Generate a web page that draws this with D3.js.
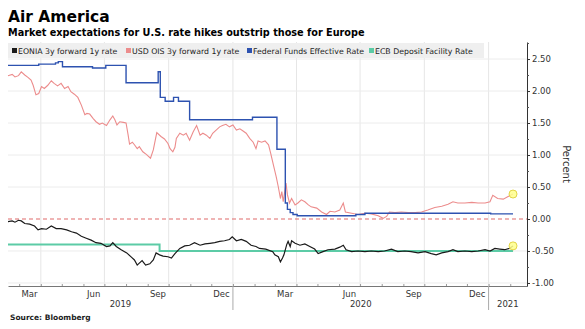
<!DOCTYPE html>
<html>
<head>
<meta charset="utf-8">
<script src="https://cdn.jsdelivr.net/npm/d3@7"></script>
<style>
  body { margin: 0; background: #fff; }
  svg { display: block; }
</style>
</head>
<body>
<svg id="chart"></svg>
<script>
// series, [date, percent]
const usdOis = [
  ["2019-02-13",2.24],["2019-02-19",2.26],["2019-02-23",2.22],["2019-02-28",2.24],["2019-03-04",2.30],["2019-03-09",2.25],
  ["2019-03-14",2.21],["2019-03-18",2.17],["2019-03-21",2.09],["2019-03-25",1.94],["2019-03-29",1.96],["2019-04-02",2.07],
  ["2019-04-06",2.04],["2019-04-11",2.09],["2019-04-16",2.16],["2019-04-20",2.12],["2019-04-25",2.08],["2019-04-30",2.12],
  ["2019-05-05",2.04],["2019-05-10",2.07],["2019-05-14",1.99],["2019-05-19",1.95],["2019-05-24",1.90],["2019-05-29",1.78],
  ["2019-06-03",1.63],["2019-06-06",1.65],["2019-06-10",1.64],["2019-06-15",1.57],["2019-06-19",1.52],["2019-06-24",1.48],
  ["2019-06-28",1.50],["2019-07-04",1.46],["2019-07-09",1.55],["2019-07-13",1.61],["2019-07-16",1.55],["2019-07-19",1.47],
  ["2019-07-23",1.52],["2019-07-28",1.51],["2019-08-01",1.50],["2019-08-04",1.31],["2019-08-06",1.17],["2019-08-10",1.20],
  ["2019-08-13",1.16],["2019-08-17",1.10],["2019-08-20",1.13],["2019-08-25",1.05],["2019-08-30",1.01],["2019-09-05",0.95],
  ["2019-09-09",1.08],["2019-09-14",1.35],["2019-09-20",1.29],["2019-09-25",1.25],["2019-09-30",1.18],["2019-10-03",1.10],
  ["2019-10-07",1.05],["2019-10-10",1.12],["2019-10-12",1.26],["2019-10-17",1.34],["2019-10-22",1.31],["2019-10-26",1.34],
  ["2019-10-31",1.23],["2019-11-05",1.36],["2019-11-10",1.46],["2019-11-15",1.31],["2019-11-19",1.34],["2019-11-24",1.31],
  ["2019-11-29",1.26],["2019-12-03",1.34],["2019-12-08",1.39],["2019-12-13",1.44],["2019-12-17",1.46],["2019-12-22",1.48],
  ["2019-12-27",1.44],["2020-01-01",1.47],["2020-01-06",1.39],["2020-01-11",1.41],["2020-01-15",1.38],["2020-01-20",1.34],
  ["2020-01-25",1.26],["2020-01-30",1.20],["2020-02-03",1.10],["2020-02-06",1.22],["2020-02-11",1.20],["2020-02-16",1.22],
  ["2020-02-21",1.16],["2020-02-24",1.03],["2020-02-28",0.84],["2020-03-03",0.66],["2020-03-06",0.50],["2020-03-09",0.32],
  ["2020-03-11",0.43],["2020-03-13",0.27],["2020-03-17",0.56],["2020-03-19",0.38],["2020-03-22",0.25],["2020-03-25",0.32],
  ["2020-03-30",0.22],["2020-04-03",0.25],["2020-04-08",0.30],["2020-04-13",0.27],["2020-04-18",0.22],["2020-04-22",0.19],
  ["2020-04-30",0.17],["2020-05-07",0.11],["2020-05-14",0.07],["2020-05-19",0.12],["2020-05-26",0.11],["2020-06-02",0.14],
  ["2020-06-07",0.25],["2020-06-10",0.11],["2020-06-19",0.09],["2020-06-28",0.07],["2020-07-08",0.09],["2020-07-17",0.08],
  ["2020-07-27",0.05],["2020-08-03",0.01],["2020-08-08",0.04],["2020-08-12",0.11],["2020-08-20",0.10],["2020-08-29",0.11],
  ["2020-09-08",0.10],["2020-09-18",0.10],["2020-09-27",0.11],["2020-10-06",0.14],["2020-10-16",0.18],["2020-10-26",0.20],
  ["2020-11-04",0.23],["2020-11-11",0.27],["2020-11-18",0.25],["2020-11-28",0.25],["2020-12-08",0.26],["2020-12-17",0.25],
  ["2020-12-27",0.25],["2021-01-03",0.27],["2021-01-07",0.37],["2021-01-14",0.32],["2021-01-22",0.31],["2021-01-29",0.35],
  ["2021-02-05",0.39]
];
const eonia = [
  ["2019-02-13",-0.04],["2019-02-19",-0.03],["2019-02-23",-0.05],["2019-02-28",-0.02],["2019-03-04",-0.03],["2019-03-09",-0.07],
  ["2019-03-16",-0.08],["2019-03-23",-0.11],["2019-03-28",-0.17],["2019-04-02",-0.15],["2019-04-09",-0.16],["2019-04-16",-0.11],
  ["2019-04-23",-0.15],["2019-04-30",-0.15],["2019-05-08",-0.17],["2019-05-15",-0.20],["2019-05-22",-0.22],["2019-05-29",-0.27],
  ["2019-06-05",-0.30],["2019-06-12",-0.33],["2019-06-19",-0.37],["2019-06-26",-0.38],["2019-07-04",-0.43],["2019-07-09",-0.42],
  ["2019-07-13",-0.37],["2019-07-18",-0.43],["2019-07-25",-0.48],["2019-08-02",-0.53],["2019-08-09",-0.60],["2019-08-13",-0.64],
  ["2019-08-17",-0.72],["2019-08-20",-0.69],["2019-08-24",-0.65],["2019-08-29",-0.72],["2019-09-04",-0.70],["2019-09-09",-0.64],
  ["2019-09-13",-0.53],["2019-09-18",-0.56],["2019-09-23",-0.58],["2019-09-30",-0.59],["2019-10-05",-0.61],["2019-10-10",-0.54],
  ["2019-10-17",-0.46],["2019-10-24",-0.42],["2019-10-31",-0.41],["2019-11-07",-0.37],["2019-11-15",-0.41],["2019-11-22",-0.39],
  ["2019-11-29",-0.38],["2019-12-06",-0.37],["2019-12-13",-0.35],["2019-12-20",-0.34],["2019-12-27",-0.32],["2019-12-31",-0.28],
  ["2020-01-06",-0.34],["2020-01-13",-0.32],["2020-01-20",-0.35],["2020-01-27",-0.41],["2020-02-03",-0.43],["2020-02-08",-0.46],
  ["2020-02-17",-0.47],["2020-02-27",-0.51],["2020-03-01",-0.56],["2020-03-06",-0.59],["2020-03-09",-0.67],["2020-03-12",-0.61],
  ["2020-03-14",-0.56],["2020-03-18",-0.40],["2020-03-20",-0.35],["2020-03-23",-0.43],["2020-03-25",-0.34],["2020-03-30",-0.38],
  ["2020-04-06",-0.41],["2020-04-13",-0.39],["2020-04-20",-0.43],["2020-04-27",-0.47],["2020-05-02",-0.54],["2020-05-09",-0.51],
  ["2020-05-16",-0.48],["2020-05-26",-0.47],["2020-06-02",-0.44],["2020-06-07",-0.41],["2020-06-11",-0.48],["2020-06-19",-0.51],
  ["2020-06-28",-0.50],["2020-07-08",-0.51],["2020-07-17",-0.50],["2020-07-27",-0.51],["2020-08-05",-0.50],["2020-08-15",-0.47],
  ["2020-08-24",-0.51],["2020-09-03",-0.50],["2020-09-12",-0.51],["2020-09-22",-0.53],["2020-10-02",-0.51],["2020-10-11",-0.54],
  ["2020-10-18",-0.56],["2020-10-26",-0.53],["2020-11-04",-0.51],["2020-11-11",-0.48],["2020-11-18",-0.51],["2020-11-28",-0.50],
  ["2020-12-08",-0.51],["2020-12-17",-0.50],["2020-12-27",-0.48],["2021-01-03",-0.50],["2021-01-10",-0.46],["2021-01-17",-0.47],
  ["2021-01-24",-0.48],["2021-01-31",-0.46],["2021-02-05",-0.42]
];
const fedFunds = [
  ["2019-02-13",2.40],["2019-03-29",2.42],["2019-04-22",2.44],["2019-04-26",2.46],["2019-05-02",2.38],["2019-06-14",2.36],
  ["2019-07-03",2.40],["2019-08-01",2.13],["2019-09-16",2.30],["2019-09-19",1.90],["2019-09-26",1.84],["2019-10-08",1.90],
  ["2019-10-15",1.84],["2019-10-31",1.55],["2020-01-29",1.59],["2020-03-04",1.09],["2020-03-16",0.25],["2020-03-19",0.15],
  ["2020-03-23",0.10],["2020-03-27",0.07],["2020-04-02",0.05],["2020-06-25",0.07],["2020-07-08",0.09],["2021-01-04",0.08],
  ["2021-02-05",0.08]
];
const ecbDeposit = [["2019-02-13",-0.40],["2019-09-18",-0.50],["2021-02-05",-0.50]];

const seriesNames = ["EONIA 3y forward 1y rate", "USD OIS 3y forward 1y rate", "Federal Funds Effective Rate", "ECB Deposit Facility Rate"];
const seriesColors = ["#1a1a1a", "#ec8c8c", "#2d52b0", "#5ccba6"];
const yTicks = [-1, -0.5, 0, 0.5, 1, 1.5, 2, 2.5];
const monthLabels = ["Mar", "Jun", "Sep", "Dec"];
const yearLabels = ["2019", "2020", "2021"];

const parse = d3.timeParse("%Y-%m-%d");
const WIDTH = 585, HEIGHT = 329;
const PLOT = { left: 8, right: 527, top: 42, bottom: 286 };
const FONT = "DejaVu Sans, Verdana, sans-serif";

const SVG = d3.select("#chart").attr("width", WIDTH).attr("height", HEIGHT)
  .style("font-family", FONT);

const xScale = d3.scaleTime()
  .domain([parse("2019-02-13"), parse("2021-02-25")])
  .range([PLOT.left, PLOT.right]);
const yScale = d3.scaleLinear()
  .domain([-1.047, 2.766])
  .range([PLOT.bottom, PLOT.top]);

// grid
const quarters = xScale.ticks(d3.timeMonth.every(3));
SVG.append("g").selectAll("line").data(quarters).enter().append("line")
  .attr("x1", d => xScale(d)).attr("x2", d => xScale(d))
  .attr("y1", PLOT.top).attr("y2", PLOT.bottom)
  .attr("stroke", "#e6e6e6").attr("stroke-width", 1);
SVG.append("g").selectAll("line").data(yTicks.filter(d => d !== 0)).enter().append("line")
  .attr("x1", PLOT.left).attr("x2", PLOT.right)
  .attr("y1", d => yScale(d)).attr("y2", d => yScale(d))
  .attr("stroke", "#ececec").attr("stroke-width", 1);

// zero line
SVG.append("line")
  .attr("x1", PLOT.left).attr("x2", PLOT.right)
  .attr("y1", yScale(0)).attr("y2", yScale(0))
  .attr("stroke", "#e06a6a").attr("stroke-width", 1.2)
  .attr("stroke-dasharray", "4,3");

// x axis: monthly minor ticks
SVG.append("g")
  .attr("transform", `translate(0,${PLOT.bottom})`)
  .call(d3.axisBottom(xScale).ticks(d3.timeMonth.every(1)).tickSize(-2).tickSizeOuter(0).tickFormat(""))
  .call(g => g.select(".domain").attr("stroke", "#777"))
  .call(g => g.selectAll(".tick line").attr("stroke", "#999"));

// month labels centred mid-month
const labelDates = xScale.ticks(d3.timeMonth.every(1))
  .filter(d => monthLabels.includes(d3.timeFormat("%b")(d)))
  .map(d => d3.timeDay.offset(d, 14));
SVG.append("g")
  .attr("transform", `translate(0,${PLOT.bottom})`)
  .call(d3.axisBottom(xScale).tickValues(labelDates).tickSize(0).tickPadding(5).tickFormat(d3.timeFormat("%b")))
  .call(g => g.select(".domain").remove())
  .call(g => g.selectAll("text").attr("font-size", "8.5px").attr("fill", "#333").attr("font-family", FONT));

// year separators and labels
const yearStarts = xScale.ticks(d3.timeYear.every(1));
SVG.append("g").selectAll("line").data(yearStarts).enter().append("line")
  .attr("x1", d => xScale(d)).attr("x2", d => xScale(d))
  .attr("y1", PLOT.bottom).attr("y2", PLOT.bottom + 24)
  .attr("stroke", "#aaa");
const yearBounds = [xScale.domain()[0], ...yearStarts, xScale.domain()[1]];
SVG.append("g").selectAll("text").data(yearLabels).enter().append("text")
  .attr("x", (d, i) => (xScale(yearBounds[i]) + xScale(yearBounds[i + 1])) / 2)
  .attr("y", PLOT.bottom + 21)
  .attr("text-anchor", "middle")
  .attr("font-size", "8.5px").attr("fill", "#333")
  .text(d => d);

// y axis on the right
SVG.append("g")
  .attr("transform", `translate(${PLOT.right},0)`)
  .call(d3.axisRight(yScale).tickValues(d3.range(-1, 2.76, 0.25)).tickSize(2).tickSizeOuter(0).tickFormat(""))
  .call(g => g.select(".domain").attr("stroke", "#333"))
  .call(g => g.selectAll(".tick line").attr("stroke", "#555"));
SVG.append("g")
  .attr("transform", `translate(${PLOT.right},0)`)
  .call(d3.axisRight(yScale).tickValues(yTicks).tickSize(3).tickPadding(2).tickFormat(d => d.toFixed(2)))
  .call(g => g.select(".domain").remove())
  .call(g => g.selectAll(".tick line").attr("stroke", "#333"))
  .call(g => g.selectAll("text").attr("font-size", "8.5px").attr("fill", "#333").attr("font-family", FONT));

SVG.append("text")
  .attr("transform", `translate(563,${(PLOT.top + PLOT.bottom) / 2}) rotate(90)`)
  .attr("text-anchor", "middle")
  .attr("font-size", "10px").attr("fill", "#333")
  .text("Percent");

// lines
const toPts = arr => arr.map(d => [parse(d[0]), d[1]]);
const line = d3.line().x(d => xScale(d[0])).y(d => yScale(d[1]));
const stepLine = d3.line().x(d => xScale(d[0])).y(d => yScale(d[1])).curve(d3.curveStepAfter);

SVG.append("path").datum(toPts(ecbDeposit)).attr("d", stepLine)
  .attr("fill", "none").attr("stroke", seriesColors[3]).attr("stroke-width", 2);
SVG.append("path").datum(toPts(eonia)).attr("d", line)
  .attr("fill", "none").attr("stroke", seriesColors[0]).attr("stroke-width", 1.2);
SVG.append("path").datum(toPts(usdOis)).attr("d", line)
  .attr("fill", "none").attr("stroke", seriesColors[1]).attr("stroke-width", 1.1);
SVG.append("path").datum(toPts(fedFunds)).attr("d", stepLine)
  .attr("fill", "none").attr("stroke", seriesColors[2]).attr("stroke-width", 1.4);

// end markers
SVG.append("g").selectAll("circle").data([usdOis[usdOis.length - 1], eonia[eonia.length - 1]]).enter().append("circle")
  .attr("cx", d => xScale(parse(d[0]))).attr("cy", d => yScale(d[1])).attr("r", 4)
  .attr("fill", "#ffff8c").attr("fill-opacity", 0.85).attr("stroke", "#e3d547").attr("stroke-width", 1);

// legend
const legendX = [12, 126, 247, 369];
SVG.append("rect")
  .attr("x", PLOT.left).attr("y", 43).attr("width", 476).attr("height", 15)
  .attr("fill", "#efefef");
const legend = SVG.append("g").selectAll("g").data(seriesNames).enter().append("g")
  .attr("transform", (d, i) => `translate(${legendX[i]},0)`);
legend.append("rect").attr("x", 0).attr("y", 48).attr("width", 5).attr("height", 5)
  .attr("fill", (d, i) => seriesColors[i]);
legend.append("text").attr("x", 6).attr("y", 53.8)
  .attr("font-size", "7.8px").attr("fill", "#222")
  .text(d => d);

// titles
SVG.append("text").attr("x", 8).attr("y", 21.5)
  .attr("font-size", "15.5px").attr("font-weight", "bold").attr("fill", "#000")
  .text("Air America");
SVG.append("text").attr("x", 8).attr("y", 35.5)
  .attr("font-size", "9.7px").attr("font-weight", "bold").attr("fill", "#000")
  .text("Market expectations for U.S. rate hikes outstrip those for Europe");
SVG.append("text").attr("x", 10).attr("y", 320)
  .attr("font-size", "7.5px").attr("font-weight", "bold").attr("fill", "#222")
  .text("Source: Bloomberg");
</script>
</body>
</html>
